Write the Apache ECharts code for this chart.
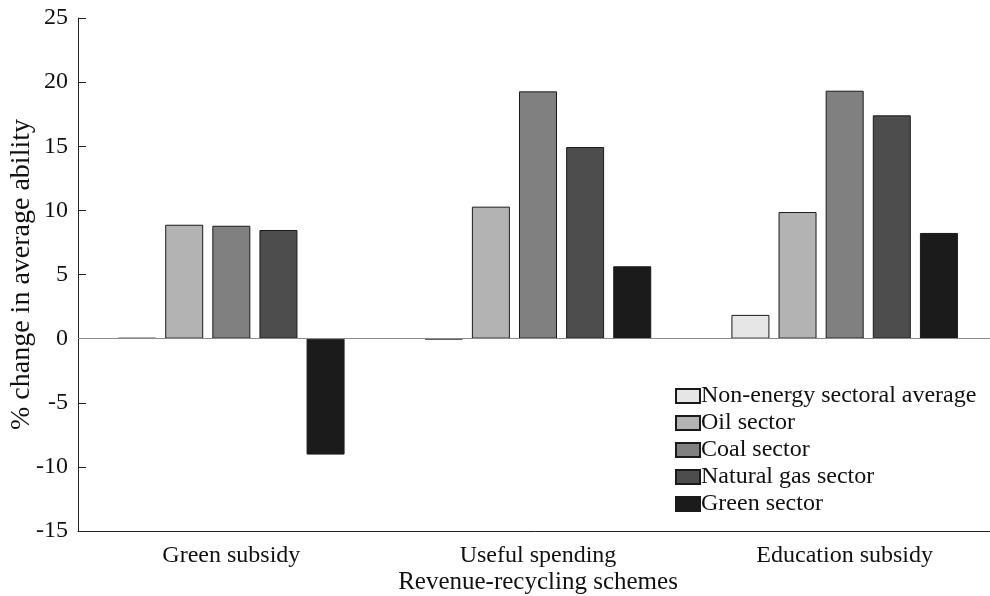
<!DOCTYPE html>
<html>
<head>
<meta charset="utf-8">
<script src="https://cdn.jsdelivr.net/npm/echarts@6/dist/echarts.min.js"></script>
<style>
  html, body { margin: 0; padding: 0; background: #fff; }
  #chart { width: 990px; height: 596px; }
</style>
</head>
<body>
<div id="chart"></div>
<script>
// Revenue-recycling schemes on the x axis
const schemes = ['Green subsidy', 'Useful spending', 'Education subsidy'];

// % change in average ability, per sector
const nonEnergy  = [0.05, -0.05, 1.85];
const oilSector  = [8.88, 10.29, 9.87];
const coalSector = [8.80, 19.28, 19.33];
const gasSector  = [8.47, 14.94, 17.41];
const greenSector = [-9.04, 5.64, 8.24];

const seriesNames = [
  'Non-energy sectoral average',
  'Oil sector',
  'Coal sector',
  'Natural gas sector',
  'Green sector'
];
const seriesValues = [nonEnergy, oilSector, coalSector, gasSector, greenSector];
const fills = ['#e6e6e6', '#b3b3b3', '#808080', '#4d4d4d', '#1b1b1b'];

const FONT = '"Liberation Serif", "DejaVu Serif", serif';

const chart = echarts.init(document.getElementById('chart'), null, { renderer: 'canvas' });

const series = seriesValues.map((vals, i) => ({
  name: seriesNames[i],
  type: 'bar',
  data: vals,
  barWidth: 38,
  barGap: '24%',
  itemStyle: { color: fills[i], borderColor: '#1a1a1a', borderWidth: 1 },
  emphasis: { disabled: true }
}));

// thin grey baseline at zero
series[0].markLine = {
  silent: true,
  symbol: 'none',
  label: { show: false },
  lineStyle: { color: '#8a8a8a', width: 1.2, type: 'solid' },
  data: [{ yAxis: 0 }]
};

chart.setOption({
  animation: false,
  backgroundColor: '#fff',
  textStyle: { fontFamily: FONT },
  grid: { left: 78, right: -8, top: 18, bottom: 65, containLabel: false, outerBoundsMode: 'none' },
  legend: {
    orient: 'vertical',
    left: 675,
    top: 384,
    padding: 0,
    itemWidth: 24,
    itemHeight: 14,
    itemGap: 3,
    icon: 'rect',
    textStyle: { fontFamily: FONT, fontSize: 24, color: '#111', padding: [0, 0, 0, -4], lineHeight: 24 },
    data: seriesNames
  },
  xAxis: {
    type: 'category',
    data: schemes,
    position: 'bottom',
    name: 'Revenue-recycling schemes',
    nameLocation: 'middle',
    nameGap: 39,
    nameMoveOverlap: false,
    nameTextStyle: { fontFamily: FONT, fontSize: 25, color: '#111' },
    axisLine: { onZero: false, lineStyle: { color: '#222', width: 1 } },
    axisTick: { inside: true, alignWithLabel: true, length: 8, lineStyle: { color: '#222' } },
    axisLabel: { fontFamily: FONT, fontSize: 24, color: '#111', margin: 13 },
    splitLine: { show: false }
  },
  yAxis: {
    type: 'value',
    min: -15,
    max: 25,
    interval: 5,
    name: '% change in average ability',
    nameLocation: 'middle',
    nameGap: 42,
    nameMoveOverlap: false,
    nameTextStyle: { fontFamily: FONT, fontSize: 28, color: '#111' },
    axisLine: { show: true, lineStyle: { color: '#222', width: 1 } },
    axisTick: { show: true, inside: true, length: 8, lineStyle: { color: '#222' } },
    axisLabel: { fontFamily: FONT, fontSize: 24, color: '#111', margin: 10 },
    splitLine: { show: false }
  },
  series: series
});
</script>
</body>
</html>
